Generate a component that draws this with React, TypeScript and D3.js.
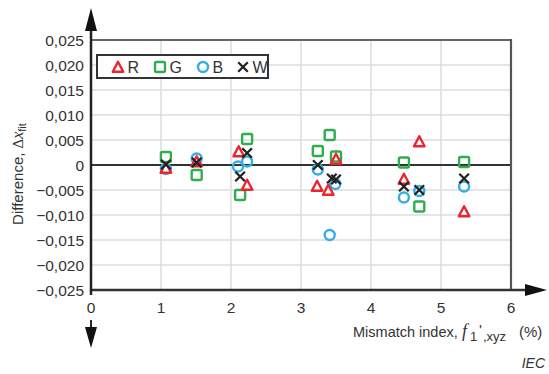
import React from "react";
import * as d3 from "d3";

const xTicks = [0, 1, 2, 3, 4, 5, 6];
const yTicks = [0.025, 0.02, 0.015, 0.01, 0.005, 0, -0.005, -0.01, -0.015, -0.02, -0.025];

const rX = [1.07, 1.51, 2.11, 2.23, 3.23, 3.39, 3.5, 4.47, 4.69, 5.33];
const rY = [-0.0006, 0.0007, 0.0027, -0.004, -0.0042, -0.005, 0.0012, -0.0028, 0.0047, -0.0093];
const gX = [1.07, 1.51, 2.13, 2.23, 3.24, 3.41, 3.5, 4.47, 4.69, 5.33];
const gY = [0.0016, -0.002, -0.006, 0.0052, 0.0028, 0.006, 0.0017, 0.0005, -0.0083, 0.0006];
const bX = [1.07, 1.51, 2.1, 2.23, 3.24, 3.41, 3.49, 4.47, 4.69, 5.33];
const bY = [-0.0008, 0.0013, -0.0003, 0.0007, -0.0009, -0.014, -0.0038, -0.0065, -0.0052, -0.0043];
const wX = [1.07, 1.51, 2.13, 2.23, 3.24, 3.44, 3.5, 4.47, 4.69, 5.33];
const wY = [0.0001, 0.0005, -0.0023, 0.0024, 0, -0.0027, -0.0029, -0.0043, -0.005, -0.0027];

const legendLabels = ["R", "G", "B", "W"];

const RED = "#ec2430";
const GREEN = "#2fae4e";
const BLUE = "#35aee6";
const BLACK = "#222";

const FONT = "'Liberation Sans', Arial, sans-serif";
const SERIF = "'Liberation Serif', 'Times New Roman', serif";

function fmtY(v: number) {
  if (Math.abs(v) < 1e-9) return "0";
  const s = Math.abs(v).toFixed(3).replace(".", ",");
  return v < 0 ? "\u2212" + s : s;
}

function Tri({ x, y }: { x: number; y: number }) {
  const h = 9.5, w = 10.5;
  return (
    <path
      d={`M${x},${y - h / 2 - 0.5} L${x + w / 2},${y + h / 2} L${x - w / 2},${y + h / 2} Z`}
      fill="none"
      stroke={RED}
      strokeWidth={2.4}
      strokeLinejoin="round"
    />
  );
}
function Sq({ x, y }: { x: number; y: number }) {
  const s = 10;
  return (
    <rect x={x - s / 2} y={y - s / 2} width={s} height={s} rx={1.5} fill="none" stroke={GREEN} strokeWidth={2.4} />
  );
}
function Circ({ x, y }: { x: number; y: number }) {
  return <circle cx={x} cy={y} r={5} fill="none" stroke={BLUE} strokeWidth={2.4} />;
}
function Cross({ x, y }: { x: number; y: number }) {
  const s = 4.8;
  return (
    <path
      d={`M${x - s},${y - s} L${x + s},${y + s} M${x - s},${y + s} L${x + s},${y - s}`}
      stroke={BLACK}
      strokeWidth={2.3}
    />
  );
}

export default function App() {
  const x = d3.scaleLinear().domain([0, 6]).range([91, 511]);
  const y = d3.scaleLinear().domain([-0.025, 0.025]).range([290, 40]);
  const x0 = x(0), x6 = x(6), yTop = y(0.025), yBot = y(-0.025);

  const legendMarkers = [Tri, Sq, Circ, Cross];
  const legendXs = [118, 160, 203, 243];

  return (
    <svg width={549} height={374} style={{ position: "absolute", left: 0, top: 0, background: "#fff" }} fontFamily={FONT}>
      {/* grid */}
      {xTicks.slice(1, -1).map((t) => (
        <line key={"gx" + t} x1={x(t)} x2={x(t)} y1={yTop} y2={yBot} stroke="#dcdcdc" strokeWidth={1.5} />
      ))}
      {yTicks.slice(1, -1).map((t) => (
        <line key={"gy" + t} x1={x0} x2={x6} y1={y(t)} y2={y(t)} stroke="#dcdcdc" strokeWidth={1.5} />
      ))}
      {/* zero line */}
      <line x1={x0} x2={x6} y1={y(0)} y2={y(0)} stroke="#333" strokeWidth={1.8} />
      {/* frame */}
      <line x1={x0} x2={x6 + 1} y1={yTop} y2={yTop} stroke="#666" strokeWidth={2} />
      <line x1={x6} x2={x6} y1={yTop - 1} y2={yBot} stroke="#555" strokeWidth={2.2} />
      {/* x axis with arrow */}
      <line x1={x0} x2={528} y1={yBot} y2={yBot} stroke="#333" strokeWidth={2.5} />
      <path d={`M525,${yBot - 6} L547,${yBot} L525,${yBot + 6} Z`} fill="#111" />
      {/* y axis with arrows */}
      <line x1={x0} x2={x0} y1={26} y2={yBot + 5} stroke="#222" strokeWidth={2.5} />
      <path d={`M${x0},8 L${x0 + 6},31 L${x0 - 6},31 Z`} fill="#111" />
      <line x1={x0} x2={x0} y1={320} y2={330} stroke="#222" strokeWidth={2} />
      <path d={`M${x0 - 6},327 L${x0 + 6},327 L${x0},348 Z`} fill="#111" />

      {/* y tick labels */}
      {yTicks.map((t) => (
        <text key={"yt" + t} x={84} y={y(t) + 5.5} textAnchor="end" fontSize={15.5} fill="#333">
          {fmtY(t)}
        </text>
      ))}
      {/* x tick labels */}
      {xTicks.map((t) => (
        <text key={"xt" + t} x={x(t)} y={313} textAnchor="middle" fontSize={15.5} fill="#333">
          {t}
        </text>
      ))}

      {/* data */}
      {gX.map((v, i) => <Sq key={"g" + i} x={x(v)} y={y(gY[i])} />)}
      {bX.map((v, i) => <Circ key={"b" + i} x={x(v)} y={y(bY[i])} />)}
      {rX.map((v, i) => <Tri key={"r" + i} x={x(v)} y={y(rY[i])} />)}
      {wX.map((v, i) => <Cross key={"w" + i} x={x(v)} y={y(wY[i])} />)}

      {/* legend */}
      <rect x={97} y={55} width={171} height={23} fill="#fff" stroke="#333" strokeWidth={2} />
      {legendLabels.map((l, i) => {
        const M = legendMarkers[i];
        return (
          <g key={"lg" + l}>
            <M x={legendXs[i]} y={67} />
            <text x={legendXs[i] + 9.5} y={72.5} fontSize={16} fill="#333">
              {l}
            </text>
          </g>
        );
      })}

      {/* y label */}
      <text transform="translate(23,174) rotate(-90)" textAnchor="middle" fontSize={15} fill="#333">
        <tspan>Difference, </tspan>
        <tspan fontFamily={SERIF} fontSize={15}>Δ</tspan>
        <tspan fontFamily={SERIF} fontStyle="italic" fontSize={16}>x</tspan>
        <tspan fontSize={11} dy={3}>fit</tspan>
      </text>

      {/* x label */}
      <text y={337} fontSize={14.5} fill="#333">
        <tspan x={353}>Mismatch index,</tspan>
        <tspan x={462} fontFamily={SERIF} fontStyle="italic" fontSize={18}>f</tspan>
        <tspan x={470} fontSize={13} dy={4}>1</tspan>
        <tspan x={479} fontSize={15} dy={-6}>'</tspan>
        <tspan x={483} fontSize={13} dy={6}>,xyz</tspan>
        <tspan x={519} fontSize={15} dy={-4}>(%)</tspan>
      </text>

      {/* IEC */}
      <text x={545} y={368} textAnchor="end" fontSize={14} fontStyle="italic" fill="#333">
        IEC
      </text>
    </svg>
  );
}
